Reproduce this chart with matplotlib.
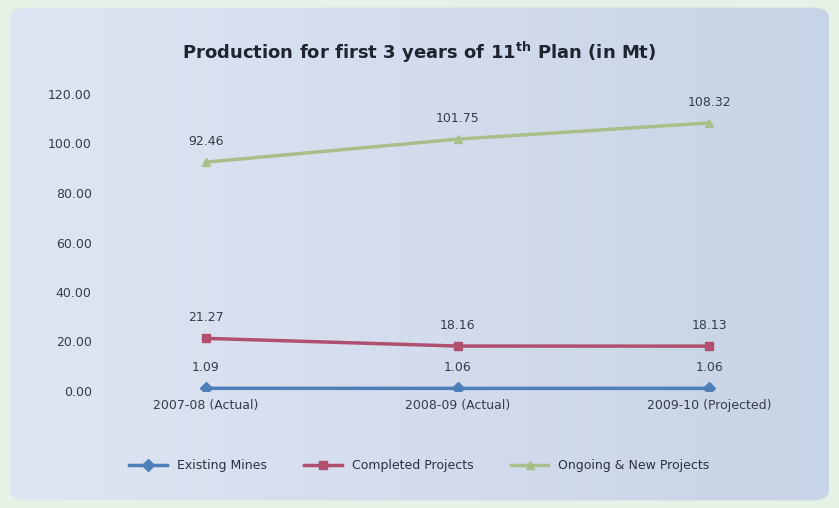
import matplotlib
matplotlib.use("Agg")
import matplotlib.pyplot as plt
from matplotlib.patches import FancyBboxPatch
import numpy as np

categories = ["2007-08 (Actual)", "2008-09 (Actual)", "2009-10 (Projected)"]
existing = [1.09, 1.06, 1.06]
completed = [21.27, 18.16, 18.13]
ongoing = [92.46, 101.75, 108.32]
series_names = ["Existing Mines", "Completed Projects", "Ongoing & New Projects"]
yticks = [0, 20, 40, 60, 80, 100, 120]

W, H = 839, 508
fig = plt.figure(figsize=(W/100, H/100), dpi=100)
fig.patch.set_facecolor("#e6f2e6")

bg = fig.add_axes([0, 0, 1, 1], zorder=-10)
bg.set_xlim(0, 1); bg.set_ylim(0, 1); bg.axis("off")
grad = np.linspace(0, 1, 256).reshape(1, -1)
img = bg.imshow(grad, extent=[0, 1, 0, 1], aspect="auto",
                cmap=matplotlib.colors.LinearSegmentedColormap.from_list("g", ["#dfe6f3", "#c7d3e6"]))
panel = FancyBboxPatch((0.012, 0.015), 0.976, 0.97, boxstyle="round,pad=0,rounding_size=0.02",
                       transform=bg.transAxes, facecolor="none", edgecolor="none")
bg.add_patch(panel)
img.set_clip_path(panel)

ax = fig.add_axes([100/W, 1-391/H, 715/W, (391-94)/H])
ax.patch.set_alpha(0)
x = np.arange(len(categories))
colors = ["#4f7fb8", "#b0506e", "#a9bf8a"]
for vals, c, name, mk in zip([existing, completed, ongoing], colors, series_names, ["D", "s", "^"]):
    ax.plot(x, vals, color=c, lw=2.5, marker=mk, markersize=6, label=name)
    for xi, v in zip(x, vals):
        ax.annotate(f"{v:.2f}", (xi, v), xytext=(0, 10), textcoords="offset points",
                    ha="center", va="bottom", fontsize=9, color="#353d4a")

ax.set_xlim(-0.42, 2.42)
ax.set_ylim(0, 120)
ax.set_yticks(yticks)
ax.set_yticklabels([f"{t:.2f}" for t in yticks], fontsize=9, color="#353d4a")
ax.set_xticks(x)
ax.set_xticklabels(categories, fontsize=9, color="#353d4a")
ax.tick_params(length=0, pad=6)
for s in ax.spines.values():
    s.set_visible(False)

fig.text(0.5, 1-52/H, r"Production for first 3 years of 11$^{\mathbf{th}}$ Plan (in Mt)",
         ha="center", va="center", fontsize=13, fontweight="bold", color="#1e2430")

leg = fig.legend(loc="center", bbox_to_anchor=(0.5, 1-466/H), ncol=3, frameon=False,
                 fontsize=9, handlelength=3, columnspacing=3)
for t in leg.get_texts():
    t.set_color("#2a3240")

fig.savefig("out.png", dpi=100, facecolor=fig.get_facecolor())
